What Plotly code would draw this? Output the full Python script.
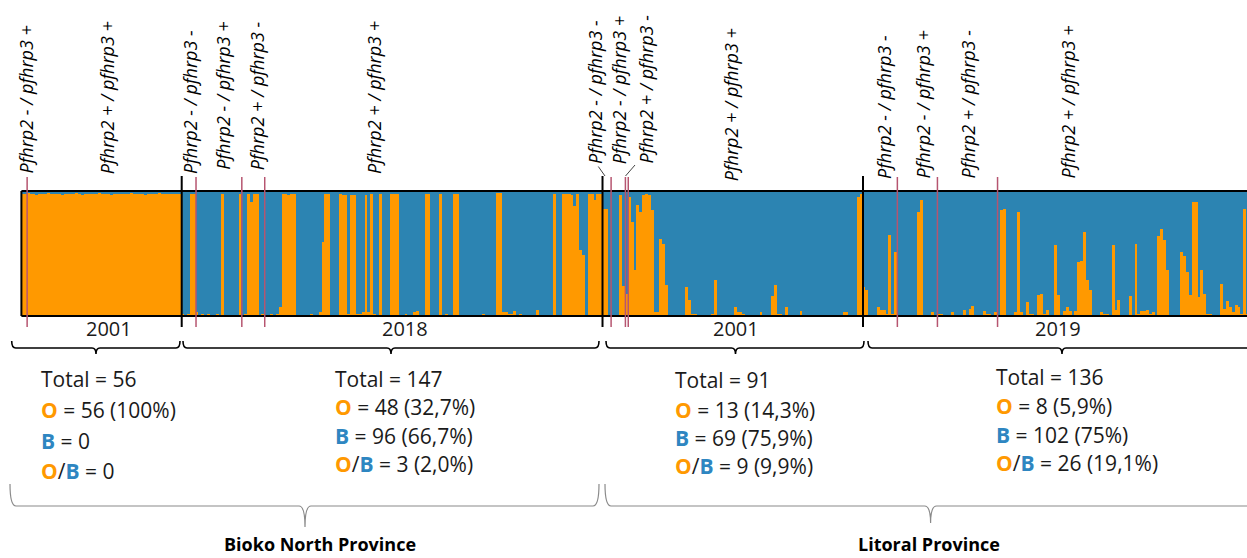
import plotly.graph_objects as go

W, H = 1247, 558
ORANGE = "#FF9900"
BLUE = "#2C84B2"
PINK = "#B65570"

# ---------------- data ----------------
years = ["2001", "2018", "2001", "2019"]
group_sizes = [56, 147, 91, 136]
subgroup_sizes = [[2, 54], [5, 16, 8, 118], [3, 5, 1, 82], [12, 14, 21, 89]]
provinces = ["Bioko North Province", "Litoral Province"]

o_counts = [56, 48, 13, 8]
o_pct = ["100%", "32,7%", "14,3%", "5,9%"]
b_counts = [0, 96, 69, 102]
b_pct = [None, "66,7%", "75,9%", "75%"]
ob_counts = [0, 3, 9, 26]
ob_pct = [None, "2,0%", "9,9%", "19,1%"]

# orange (O) membership of each individual, per group
orange_2001_bioko = [
    0.98, 0.98, 0.99, 0.98, 0.98, 0.97, 0.98, 0.98, 0.98, 0.99,
    0.98, 0.98, 0.98, 0.98, 0.97, 0.98, 0.98, 0.98, 0.98, 0.99,
    0.98, 0.97, 0.98, 0.98, 0.98, 0.98, 0.98, 0.99, 0.98, 0.98,
    0.98, 0.97, 0.98, 0.98, 0.98, 0.98, 0.98, 0.98, 0.99, 0.98,
    0.98, 0.98, 0.98, 0.97, 0.98, 0.98, 0.98, 0.98, 0.99, 0.98,
    0.98, 0.98, 0.98, 0.98, 0.98, 0.98]
orange_2018_bioko = [
    0.02, 0.01, 0.02, 0.98, 0.98, 0.03, 0.01, 0.02, 0.01, 0.02,
    0.01, 0.01, 0.02, 0.01, 0.98, 0.01, 0.01, 0.01, 0.01, 0.01,
    0.98, 0.01, 0.02, 0.98, 0.91, 0.98, 0.98, 0.01, 0.02, 0.01,
    0.01, 0.02, 0.01, 0.02, 0.07, 0.98, 0.98, 0.97, 0.98, 0.98,
    0.01, 0.01, 0.01, 0.01, 0.01, 0.02, 0.01, 0.01, 0.03, 0.59,
    0.98, 0.98, 0.01, 0.01, 0.01, 0.98, 0.97, 0.97, 0.02, 0.97,
    0.97, 0.02, 0.02, 0.03, 0.97, 0.03, 0.98, 0.02, 0.01, 0.98,
    0.01, 0.01, 0.01, 0.98, 0.98, 0.98, 0.01, 0.01, 0.02, 0.01,
    0.01, 0.03, 0.04, 0.01, 0.01, 0.98, 0.98, 0.01, 0.01, 0.01,
    0.98, 0.01, 0.02, 0.01, 0.01, 0.98, 0.98, 0.01, 0.01, 0.01,
    0.01, 0.01, 0.01, 0.01, 0.01, 0.02, 0.01, 0.01, 0.01, 0.01,
    0.99, 0.99, 0.03, 0.03, 0.02, 0.02, 0.04, 0.01, 0.02, 0.01,
    0.01, 0.01, 0.01, 0.01, 0.05, 0.01, 0.01, 0.01, 0.01, 0.01,
    0.98, 0.01, 0.01, 0.98, 0.98, 0.98, 0.97, 0.88, 0.98, 0.53,
    0.49, 0.01, 0.98, 0.98, 0.93, 0.98, 0.98]
orange_2001_litoral = [
    0.86, 0.86, 0.01, 0.01, 0.01, 0.01, 0.97, 0.24, 0.18, 0.955,
    0.75, 0.37, 0.89, 0.83, 0.97, 0.98, 0.97, 0.85, 0.03, 0.03,
    0.62, 0.58, 0.25, 0.01, 0.01, 0.01, 0.01, 0.01, 0.01, 0.23,
    0.13, 0.02, 0.02, 0.01, 0.01, 0.01, 0.01, 0.01, 0.02, 0.29,
    0.01, 0.01, 0.01, 0.01, 0.01, 0.01, 0.075, 0.03, 0.03, 0.02,
    0.01, 0.01, 0.01, 0.01, 0.01, 0.035, 0.01, 0.01, 0.01, 0.16,
    0.25, 0.02, 0.02, 0.01, 0.07, 0.01, 0.01, 0.01, 0.01, 0.04,
    0.01, 0.01, 0.01, 0.01, 0.01, 0.01, 0.01, 0.01, 0.01, 0.01,
    0.01, 0.01, 0.01, 0.01, 0.035, 0.035, 0.01, 0.01, 0.01, 0.955,
    0.98]
orange_2019_litoral = [
    0.23, 0.21, 0.01, 0.01, 0.01, 0.075, 0.05, 0.05, 0.02, 0.65,
    0.02, 0.51, 0.01, 0.01, 0.01, 0.01, 0.01, 0.01, 0.01, 0.83,
    0.93, 0.005, 0.005, 0.005, 0.035, 0.005, 0.02, 0.02, 0.005, 0.005,
    0.005, 0.035, 0.005, 0.005, 0.005, 0.05, 0.005, 0.06, 0.08, 0.005,
    0.005, 0.005, 0.04, 0.02, 0.02, 0.005, 0.035, 0.005, 0.85, 0.86,
    0.005, 0.005, 0.005, 0.03, 0.83, 0.03, 0.005, 0.115, 0.02, 0.02,
    0.01, 0.17, 0.175, 0.02, 0.05, 0.005, 0.005, 0.57, 0.17, 0.01,
    0.04, 0.075, 0.04, 0.01, 0.04, 0.43, 0.44, 0.67, 0.29, 0.21,
    0.01, 0.01, 0.01, 0.03, 0.015, 0.015, 0.01, 0.57, 0.05, 0.13,
    0.01, 0.01, 0.01, 0.16, 0.01, 0.58, 0.02, 0.04, 0.04, 0.05,
    0.02, 0.035, 0.01, 0.64, 0.70, 0.61, 0.37, 0.005, 0.005, 0.005,
    0.01, 0.51, 0.48, 0.355, 0.17, 0.915, 0.915, 0.155, 0.37, 0.18,
    0.02, 0.02, 0.005, 0.005, 0.005, 0.26, 0.06, 0.12, 0.07, 0.03,
    0.09, 0.075, 0.02, 0.86, 0.02, 0.02]

label_texts = [
    ["Pfhrp2 - / pfhrp3 +", "Pfhrp2 + / pfhrp3 +"],
    ["Pfhrp2 - / pfhrp3 -", "Pfhrp2 - / pfhrp3 +", "Pfhrp2 + / pfhrp3 -", "Pfhrp2 + / pfhrp3 +"],
    ["Pfhrp2 - / pfhrp3 -", "Pfhrp2 - / pfhrp3 +", "Pfhrp2 + / pfhrp3 -", "Pfhrp2 + / pfhrp3 +"],
    ["Pfhrp2 - / pfhrp3 -", "Pfhrp2 - / pfhrp3 +", "Pfhrp2 + / pfhrp3 -", "Pfhrp2 + / pfhrp3 +"],
]

orange = orange_2001_bioko + orange_2018_bioko + orange_2001_litoral + orange_2019_litoral
blue = [round(1 - v, 4) for v in orange]
idx = list(range(len(orange)))

# ---------------- layout helpers (pixel -> paper) ----------------
def px(x):
    return x / W

def py(y):
    return 1 - y / H

PLOT_L, PLOT_T, PLOT_B = 21.4, 191, 316
BAR_W = 2.8626
x_max = (W - PLOT_L) / BAR_W - 0.5

fig = go.Figure()
fig.add_trace(go.Bar(x=idx, y=orange, marker=dict(color=ORANGE, line=dict(width=0)),
                     hoverinfo="skip", showlegend=False))
fig.add_trace(go.Bar(x=idx, y=blue, marker=dict(color=BLUE, line=dict(width=0)),
                     hoverinfo="skip", showlegend=False))

shapes = []
annotations = []

def pline(x0, y0, x1, y1, color="black", width=2):
    shapes.append(dict(type="line", xref="paper", yref="paper",
                       x0=px(x0), y0=py(y0), x1=px(x1), y1=py(y1),
                       line=dict(color=color, width=width)))

# frame
pline(PLOT_L, PLOT_T, W + 5, PLOT_T)
pline(PLOT_L, PLOT_B, W + 5, PLOT_B)
pline(PLOT_L, PLOT_T, PLOT_L, PLOT_B)

# group separators and subgroup (pink) markers from the counts
start = 0
for g, size in enumerate(group_sizes):
    if g > 0:
        shapes.append(dict(type="line", xref="x", yref="paper",
                           x0=start - 0.5, x1=start - 0.5, y0=py(327), y1=py(176),
                           line=dict(color="black", width=2)))
    s = start
    for sub in subgroup_sizes[g][:-1]:
        s += sub
        shapes.append(dict(type="line", xref="x", yref="paper",
                           x0=s - 0.5, x1=s - 0.5, y0=py(327), y1=py(177),
                           line=dict(color=PINK, width=1.5)))
    start += size

# connectors for crowded labels
pline(598.3, 166.5, 605, 176, color="#444", width=1)
pline(635, 165, 625.5, 176, color="#444", width=1)

# genotype labels (rotated)
label_pos = [
    [(25.5, 176), (106.7, 176)],
    [(190, 176), (222.7, 172), (256.7, 172), (373.5, 176)],
    [(595, 166), (619.3, 166), (645, 166), (731.7, 183)],
    [(884, 181), (922.6, 181), (967, 181), (1067, 181)],
]
for g in range(4):
    for (lx, ly), txt in zip(label_pos[g], label_texts[g]):
        annotations.append(dict(x=px(lx), y=py(ly), xref="paper", yref="paper",
                                text="<i>" + txt + "</i>", showarrow=False,
                                textangle=-90, xanchor="center", yanchor="bottom",
                                font=dict(family="Open Sans", size=18, color="black")))

# year labels + brackets
year_x = [109, 405, 736, 1058]
bracket = [(11.7, 180, 96), (183, 599, 391), (606, 864, 735.5), (868, 1265, 1062)]

def path(points):
    out = []
    for cmd, pts in points:
        out.append(cmd + " ".join(f"{px(x):.5f},{py(y):.5f}" for x, y in pts))
    return " ".join(out)

for g in range(4):
    annotations.append(dict(x=px(year_x[g]), y=py(328), xref="paper", yref="paper",
                            text=years[g], showarrow=False, xanchor="center", yanchor="middle",
                            font=dict(family="Open Sans", size=20, color="#1a1a1a")))
    x0, x1, c = bracket[g]
    yt, yl, yk = 341, 348, 354
    d = path([("M", [(x0, yt)]), ("Q", [(x0, yl), (x0 + 4, yl)]), ("L", [(c - 4, yl)]),
              ("Q", [(c, yl), (c, yk)]), ("M", [(c, yk)]), ("Q", [(c, yl), (c + 4, yl)]),
              ("L", [(x1 - 4, yl)]), ("Q", [(x1, yl), (x1, yt)])])
    shapes.append(dict(type="path", xref="paper", yref="paper", path=d,
                       line=dict(color="black", width=1.6)))

# statistics text
stat_x = [38.7, 333, 672.5, 994]
stat_y = [[379, 410, 440.5, 471], [379, 407, 436, 464], [380, 410, 438, 466], [377, 406, 435, 463]]
O_SPAN = "<span style='color:#FF9900'><b>O</b></span>"
B_SPAN = "<span style='color:#2E86C1'><b>B</b></span>"

def val(n, p):
    return f"{n}" if p is None else f"{n} ({p})"

for g in range(4):
    lines = [
        f"Total = {group_sizes[g]}",
        f"{O_SPAN} = {val(o_counts[g], o_pct[g])}",
        f"{B_SPAN} = {val(b_counts[g], b_pct[g])}",
        f"{O_SPAN}/{B_SPAN} = {val(ob_counts[g], ob_pct[g])}",
    ]
    for t, yy in zip(lines, stat_y[g]):
        annotations.append(dict(x=px(stat_x[g]), y=py(yy), xref="paper", yref="paper",
                                text=t, showarrow=False, xanchor="left", yanchor="middle",
                                font=dict(family="Open Sans", size=21, color="#1a1a1a")))

# province braces + labels
prov_brace = [(10, 599, 305, 527), (605, 1265, 930.6, 523)]
prov_x = [319.5, 928.5]
for p in range(2):
    x0, x1, c, tip = prov_brace[p]
    yt, yl = 484, 506
    d = path([("M", [(x0, yt)]), ("Q", [(x0, yl), (x0 + 6, yl)]), ("L", [(c - 6, yl)]),
              ("Q", [(c, yl), (c, tip)]), ("M", [(c, tip)]), ("Q", [(c, yl), (c + 6, yl)]),
              ("L", [(x1 - 6, yl)]), ("Q", [(x1, yl), (x1, yt)])])
    shapes.append(dict(type="path", xref="paper", yref="paper", path=d,
                       line=dict(color="#8a8a8a", width=1.2)))
    annotations.append(dict(x=px(prov_x[p]), y=py(544), xref="paper", yref="paper",
                            text="<b>" + provinces[p] + "</b>", showarrow=False,
                            xanchor="center", yanchor="middle", borderpad=0,
                            font=dict(family="Open Sans", size=18, color="black")))

fig.update_layout(
    width=W, height=H, margin=dict(l=0, r=0, t=0, b=0),
    paper_bgcolor="white", plot_bgcolor="white",
    barmode="stack", bargap=0,
    xaxis=dict(domain=[px(PLOT_L), 1], range=[-0.5, x_max], visible=False, fixedrange=True),
    yaxis=dict(domain=[py(PLOT_B), py(PLOT_T)], range=[0, 1], visible=False, fixedrange=True),
    shapes=shapes, annotations=annotations, showlegend=False,
)

fig.write_html("out.html", config={"displayModeBar": False},
               post_script="document.body.style.margin='0';document.body.style.overflow='hidden';")
